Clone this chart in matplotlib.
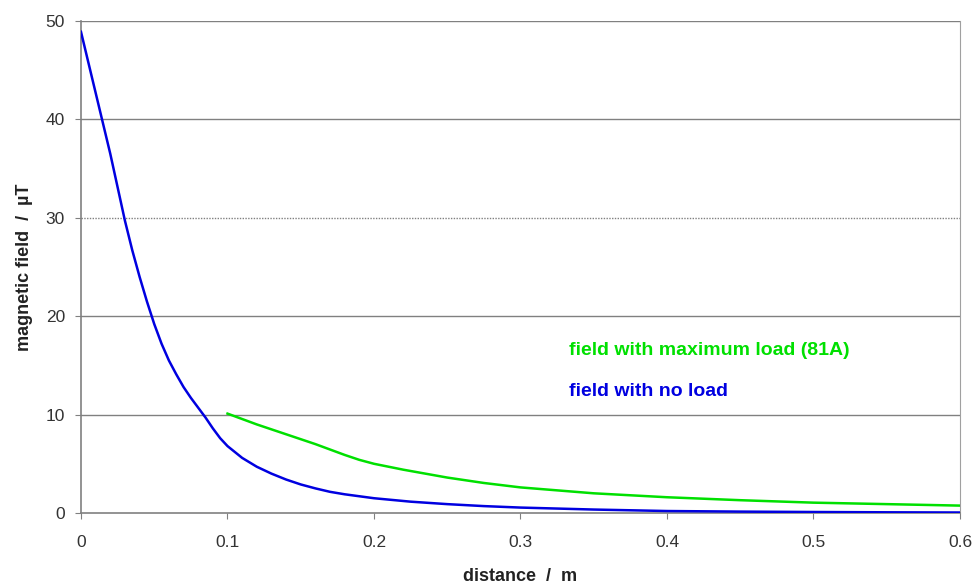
import matplotlib
matplotlib.use("Agg")
import matplotlib.pyplot as plt

plt.rcParams['font.family'] = ['Liberation Sans', 'DejaVu Sans']

# data
blue_x = [0, 0.005, 0.01, 0.015, 0.02, 0.025, 0.03, 0.035, 0.04, 0.045, 0.05, 0.055,
          0.06, 0.065, 0.07, 0.075, 0.08, 0.085, 0.09, 0.095, 0.1, 0.11, 0.12, 0.13,
          0.14, 0.15, 0.16, 0.17, 0.18, 0.19, 0.2, 0.225, 0.25, 0.275, 0.3, 0.35,
          0.4, 0.45, 0.5, 0.55, 0.6]
blue_y = [48.9, 45.8, 42.7, 39.6, 36.5, 33.1, 29.7, 26.7, 24.0, 21.5, 19.2, 17.2,
          15.5, 14.1, 12.8, 11.7, 10.7, 9.7, 8.6, 7.6, 6.8, 5.6, 4.7, 4.0,
          3.4, 2.9, 2.5, 2.15, 1.9, 1.7, 1.5, 1.15, 0.9, 0.7, 0.55, 0.35,
          0.2, 0.14, 0.1, 0.07, 0.05]
green_x = [0.1, 0.11, 0.12, 0.13, 0.14, 0.15, 0.16, 0.17, 0.18, 0.19, 0.2, 0.21,
           0.22, 0.235, 0.25, 0.275, 0.3, 0.325, 0.35, 0.375, 0.4, 0.45, 0.5, 0.55, 0.6]
green_y = [10.1, 9.55, 9.0, 8.5, 8.0, 7.5, 7.0, 6.45, 5.9, 5.4, 5.0, 4.7,
           4.4, 4.0, 3.6, 3.05, 2.6, 2.3, 2.0, 1.8, 1.6, 1.3, 1.05, 0.9, 0.75]
x_ticks = [0, 0.1, 0.2, 0.3, 0.4, 0.5, 0.6]
x_ticklabels = ['0', '0.1', '0.2', '0.3', '0.4', '0.5', '0.6']
y_ticks = [0, 10, 20, 30, 40, 50]
label_green = 'field with maximum load (81A)'
label_blue = 'field with no load'

fig = plt.figure(figsize=(9.77, 5.85), dpi=100)
ax = fig.add_axes([0.0829, 0.1231, 0.8997, 0.8410])

ax.set_xlim(0, 0.6)
ax.set_ylim(0, 50)

for yv in y_ticks[1:]:
    ls = (0, (1, 1)) if yv == 30 else '-'
    ax.axhline(yv, color='#808080', lw=1.0, ls=ls, zorder=1)

ax.plot(blue_x, blue_y, color='#0000e0', lw=1.8, zorder=3)
ax.plot(green_x, green_y, color='#00e000', lw=1.8, zorder=3)

ax.text(0.333, 16.5, label_green, color='#00e000', fontsize=14, fontweight='bold', va='center')
ax.text(0.333, 12.3, label_blue, color='#0000e0', fontsize=14, fontweight='bold', va='center')

ax.spines['top'].set_visible(False)
ax.spines['right'].set_color('#a0a0a0')
ax.spines['right'].set_linestyle((0, (1, 1)))
ax.spines['left'].set_color('#808080')
ax.spines['bottom'].set_color('#808080')
ax.spines['left'].set_linewidth(1.2)
ax.spines['bottom'].set_linewidth(1.2)

ax.set_xticks(x_ticks)
ax.set_xticklabels(x_ticklabels)
ax.set_yticks(y_ticks)
ax.tick_params(axis='both', direction='out', length=4.5, color='#808080', labelsize=12.5,
               labelcolor='#333333')
ax.tick_params(axis='x', pad=11)
ax.tick_params(axis='y', pad=7)

ax.set_xlabel('distance  /  m', fontsize=13, fontweight='bold', color='#222222', labelpad=13)
ax.set_ylabel('magnetic field  /  µT', fontsize=13, fontweight='bold', color='#222222', labelpad=9)

fig.savefig('out.png', dpi=100)
